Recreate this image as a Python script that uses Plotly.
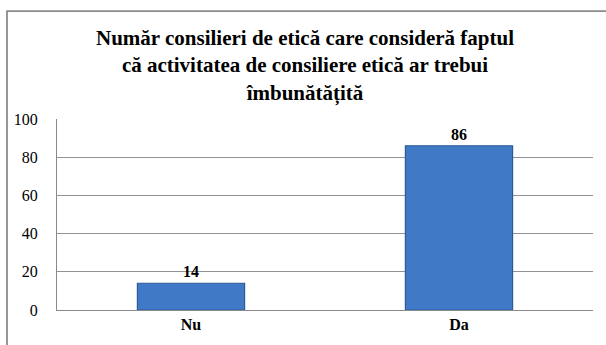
import plotly.graph_objects as go

# Chart data
categories = ["Nu", "Da"]
values = [14, 86]
y_ticks = [0, 20, 40, 60, 80, 100]

title_text = ("Număr consilieri de etică care consideră faptul<br>"
              "că activitatea de consiliere etică ar trebui<br>"
              "îmbunătățită")

SERIF = "Liberation Serif, Times New Roman, serif"

W, H = 606, 345
M_L, M_R, M_T, M_B = 57, 13, 119, 32
plot_w = W - M_L - M_R
plot_h = H - M_T - M_B

fig = go.Figure(
    go.Bar(
        x=categories,
        y=values,
        width=0.40,
        marker=dict(color="#4079c6", line=dict(color="#2d5b98", width=1.2)),
        text=[str(v) for v in values],
        textposition="outside",
        textfont=dict(family=SERIF, size=16, color="black"),
        texttemplate="<b>%{text}</b>",
        cliponaxis=False,
    )
)

fig.update_layout(
    width=W,
    height=H,
    margin=dict(l=M_L, r=M_R, t=M_T, b=M_B),
    paper_bgcolor="white",
    plot_bgcolor="white",
    showlegend=False,
    font=dict(family=SERIF, color="black"),
    title=dict(
        text="<b>" + title_text + "</b>",
        font=dict(family=SERIF, size=21, color="black"),
        x=(305 - M_L) / plot_w,
        xref="paper",
        xanchor="center",
        y=1 - 45 / H,
        yref="container",
        yanchor="middle",
    ),
    xaxis=dict(
        showline=True,
        linecolor="#8a8a8a",
        linewidth=1,
        tickfont=dict(family=SERIF, size=16, color="black"),
        tickprefix="<b>",
        ticksuffix="</b>",
        ticks="",
        showgrid=False,
    ),
    yaxis=dict(
        range=[0, 100],
        tickvals=y_ticks,
        showline=True,
        linecolor="#8a8a8a",
        linewidth=1,
        showgrid=True,
        gridcolor="#939393",
        gridwidth=1,
        zeroline=False,
        ticks="",
        ticklabelstandoff=15,
        tickfont=dict(family=SERIF, size=16, color="black"),
    ),
    bargap=0.6,
)

# Outer chart frame
fig.add_shape(
    type="rect",
    xref="paper",
    yref="paper",
    x0=(7 - M_L) / plot_w,
    x1=1.2,
    y0=-0.5,
    y1=(H - M_B - 9.5) / plot_h,
    line=dict(color="#8c8c8c", width=1.8),
    fillcolor="rgba(0,0,0,0)",
    layer="below",
)

fig.write_html("out.html")
